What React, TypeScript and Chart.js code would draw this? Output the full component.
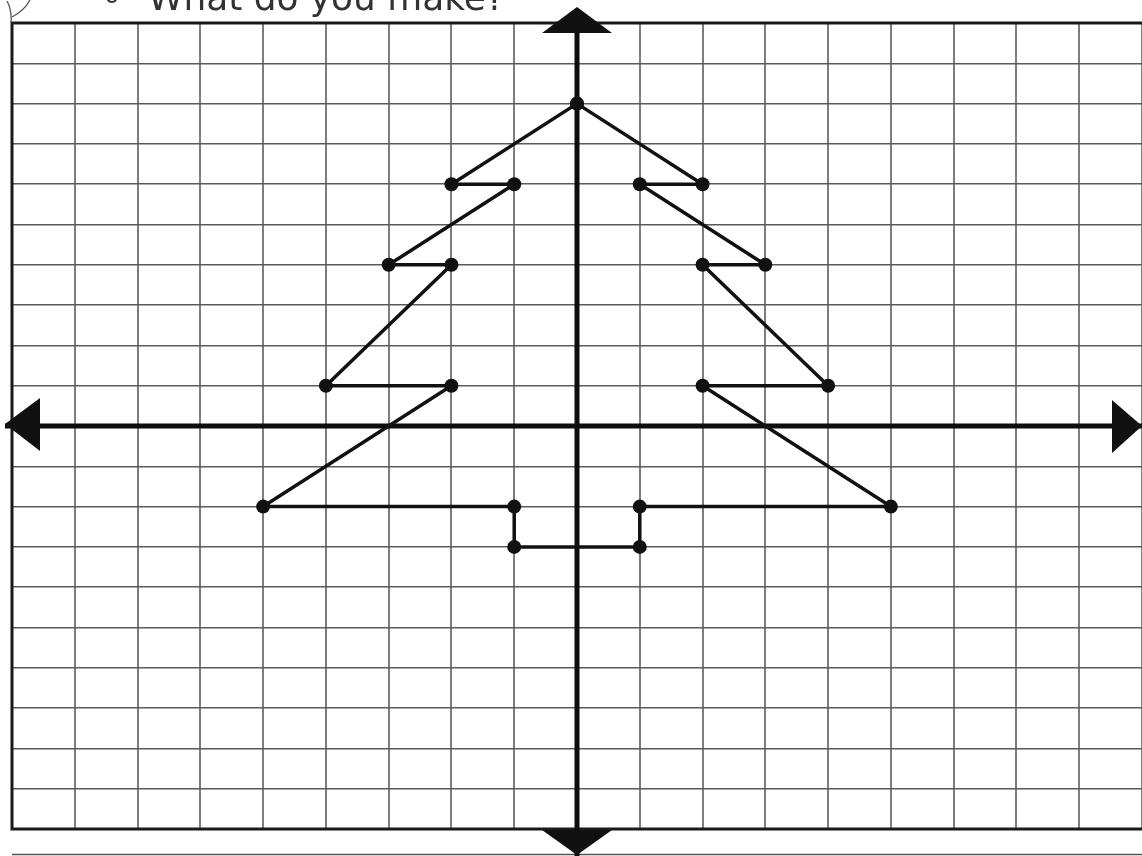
import { useEffect, useRef } from "react";
import { Chart, registerables } from "chart.js";

Chart.register(...registerables);

// ---- data ----
const xValues = [0, -2, -1, -3, -2, -4, -2, -5, -1, -1, 1, 1, 5, 2, 4, 2, 3, 1, 2, 0];
const yValues = [8, 6, 6, 4, 4, 1, 1, -2, -2, -3, -3, -2, -2, 1, 1, 4, 4, 6, 6, 8];
const xRange = [-9, 9];
const yRange = [-10, 10];
const titleText = "What do you make?";
const questionNumber = "6";

const W = 1142;
const H = 856;

export default function App() {
  const ref = useRef<HTMLCanvasElement>(null);

  useEffect(() => {
    const canvas = ref.current!;

    const decor = {
      id: "decor",
      beforeDatasetsDraw(chart: any) {
        const { ctx, chartArea } = chart;
        const { left, top, right, bottom } = chartArea;
        const xs = chart.scales.x;
        const ys = chart.scales.y;
        const x0 = xs.getPixelForValue(0);
        const y0 = ys.getPixelForValue(0);
        ctx.save();
        // frame
        ctx.strokeStyle = "#1a1a1a";
        ctx.lineWidth = 3;
        ctx.beginPath();
        ctx.moveTo(right, top);
        ctx.lineTo(left, top);
        ctx.lineTo(left, bottom);
        ctx.lineTo(right, bottom);
        ctx.stroke();
        // page rule at very bottom
        ctx.strokeStyle = "#555";
        ctx.lineWidth = 1.5;
        ctx.beginPath();
        ctx.moveTo(left, H - 1.5);
        ctx.lineTo(W, H - 1.5);
        ctx.stroke();
        // axes
        ctx.strokeStyle = "#0d0d0d";
        ctx.lineWidth = 5;
        ctx.beginPath();
        ctx.moveTo(x0, top - 14);
        ctx.lineTo(x0, H);
        ctx.moveTo(left - 7, y0);
        ctx.lineTo(right, y0);
        ctx.stroke();
        // arrowheads
        ctx.fillStyle = "#111";
        const tri = (pts: number[][]) => {
          ctx.beginPath();
          ctx.moveTo(pts[0][0], pts[0][1]);
          ctx.lineTo(pts[1][0], pts[1][1]);
          ctx.lineTo(pts[2][0], pts[2][1]);
          ctx.closePath();
          ctx.fill();
        };
        tri([[x0, top - 16], [x0 - 35, top + 10], [x0 + 35, top + 10]]);
        tri([[x0, H - 1], [x0 - 35, bottom + 1], [x0 + 35, bottom + 1]]);
        tri([[left - 7, y0 - 2], [left + 28, y0 - 28], [left + 28, y0 + 25]]);
        tri([[right, y0], [right - 30, y0 - 26], [right - 30, y0 + 27]]);
        ctx.restore();
      },
      afterDraw(chart: any) {
        const { ctx } = chart;
        ctx.save();
        ctx.fillStyle = "#333";
        ctx.textBaseline = "alphabetic";
        ctx.textAlign = "left";
        // fit title width to ~357px
        ctx.font = "100px 'DejaVu Sans'";
        const w100 = ctx.measureText(titleText).width;
        const size = (357 / w100) * 100;
        ctx.font = `${size.toFixed(1)}px 'DejaVu Sans'`;
        ctx.fillText(titleText, 148, 10);
        ctx.font = "24px 'DejaVu Sans'";
        ctx.fillText(questionNumber, 104, 3);
        // small flourish
        ctx.strokeStyle = "#555";
        ctx.lineWidth = 1.3;
        ctx.beginPath();
        ctx.moveTo(11, 23);
        ctx.quadraticCurveTo(12, 10, 7, 1);
        ctx.moveTo(12, 17);
        ctx.quadraticCurveTo(24, 11, 30, 0);
        ctx.stroke();
        ctx.restore();
      },
    };

    const chart = new Chart(canvas, {
      type: "scatter",
      data: {
        datasets: [
          {
            data: xValues.map((x, i) => ({ x, y: yValues[i] })),
            showLine: true,
            borderColor: "#111",
            borderWidth: 3.5,
            pointRadius: 7,
            pointBackgroundColor: "#111",
            pointBorderColor: "#111",
            pointBorderWidth: 0,
            tension: 0,
          },
        ],
      },
      options: {
        responsive: false,
        animation: false,
        events: [],
        layout: { autoPadding: false, padding: { left: 12, top: 23, right: 0, bottom: 27 } },
        plugins: { legend: { display: false }, tooltip: { enabled: false } },
        scales: {
          x: {
            type: "linear",
            min: xRange[0],
            max: xRange[1],
            ticks: { display: false, stepSize: 1 },
            grid: { color: "#7d7d7d", lineWidth: 2, drawTicks: false },
            border: { display: false },
          },
          y: {
            type: "linear",
            min: yRange[0],
            max: yRange[1],
            ticks: { display: false, stepSize: 1 },
            grid: { color: "#5a5a5a", lineWidth: 1.6, drawTicks: false },
            border: { display: false },
          },
        },
      },
      plugins: [decor],
    });
    return () => chart.destroy();
  }, []);

  return (
    <div style={{ position: "absolute", left: 0, top: 0, width: W, height: H, background: "#fff" }}>
      <canvas ref={ref} width={W} height={H} style={{ width: W, height: H, display: "block" }} />
    </div>
  );
}
